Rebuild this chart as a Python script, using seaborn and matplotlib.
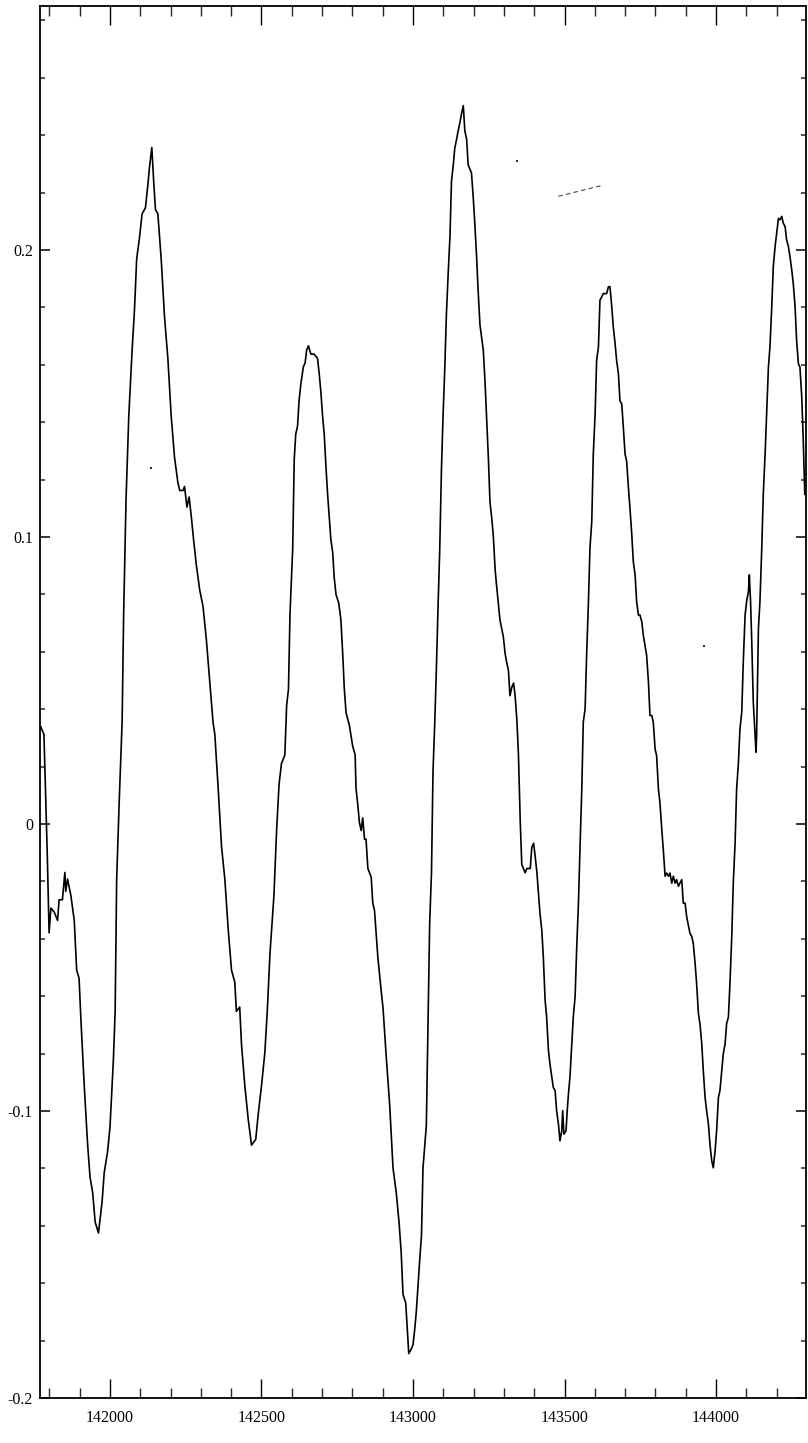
import matplotlib
matplotlib.use("Agg")
import matplotlib.pyplot as plt
import matplotlib.ticker as mticker
import seaborn as sns
import pandas as pd
import numpy as np

# ---- data ----
x_a = [141771, 141782, 141793, 141799, 141805, 141816, 141827, 141832, 141843, 141851,
       141854, 141860, 141871, 141882, 141890, 141898, 141904, 141915, 141926, 141934,
       141943, 141951, 141962, 141974, 141981, 141992, 142000, 142011, 142017, 142022,
       142031, 142040, 142045, 142053, 142062, 142073, 142081, 142088, 142097, 142106,
       142117, 142125, 142130, 142138, 142144, 142150, 142158, 142169, 142180, 142191,
       142202, 142213, 142224, 142230, 142241, 142246, 142254, 142261, 142268, 142276,
       142285, 142296, 142307, 142318, 142329, 142340, 142346, 142357, 142368, 142379,
       142390, 142401, 142412, 142417, 142428, 142434, 142445, 142456, 142467, 142481,
       142489, 142500, 142511, 142519, 142528, 142541, 142550, 142558, 142566, 142577,
       142583, 142589, 142594, 142603]
y_a = [0.034, 0.0312, -0.0106, -0.0379, -0.0293, -0.0307, -0.0336, -0.0264, -0.0264, -0.0169,
       -0.0235, -0.0192, -0.025, -0.0336, -0.0509, -0.0538, -0.0682, -0.0912, -0.1114, -0.1229,
       -0.1286, -0.1387, -0.1425, -0.1315, -0.1214, -0.1142, -0.1056, -0.0826, -0.0653, -0.0192,
       0.0096, 0.0355, 0.073, 0.1133, 0.1421, 0.1651, 0.1795, 0.1968, 0.204, 0.2126,
       0.2147, 0.2227, 0.2285, 0.2357, 0.2242, 0.2141, 0.2126, 0.1968, 0.1766, 0.1622,
       0.1421, 0.1277, 0.119, 0.1162, 0.1162, 0.1176, 0.1104, 0.1139, 0.1075, 0.0989,
       0.0902, 0.0816, 0.0758, 0.0643, 0.0499, 0.0355, 0.0312, 0.0125, -0.0077, -0.0192,
       -0.0365, -0.0509, -0.0552, -0.0653, -0.0638, -0.0768, -0.0912, -0.1027, -0.1119, -0.1099,
       -0.1013, -0.0912, -0.0797, -0.0653, -0.0451, -0.025, -0.0019, 0.0139, 0.0211, 0.024,
       0.0413, 0.047, 0.073, 0.096]

x_b = [142608, 142613, 142619, 142624, 142630, 142638, 142644, 142649, 142655, 142663,
       142674, 142685, 142691, 142696, 142702, 142707, 142713, 142718, 142724, 142729,
       142735, 142740, 142746, 142755, 142762, 142768, 142773, 142779, 142790, 142801,
       142809, 142812, 142818, 142823, 142829, 142834, 142840, 142845, 142851, 142862,
       142867, 142873, 142878, 142884, 142895, 142901, 142912, 142923, 142934, 142945,
       142954, 142961, 142967, 142976, 142981, 142986, 142994, 143000, 143006, 143011,
       143022, 143028, 143033, 143044, 143050, 143055, 143061, 143066, 143072, 143077,
       143083, 143088, 143094, 143099, 143105, 143110, 143116, 143122, 143127, 143133,
       143138, 143144, 143149, 143155, 143160, 143166, 143171, 143177, 143182, 143193,
       143199, 143204, 143210, 143215, 143221, 143232, 143238, 143243, 143249, 143254,
       143260, 143265, 143271, 143276, 143287, 143298, 143304, 143309, 143315, 143320,
       143326, 143332, 143337, 143343, 143348, 143354, 143359, 143370, 143376, 143387,
       143392, 143398, 143403, 143409]
y_b = [0.1269, 0.1358, 0.1387, 0.1475, 0.1534, 0.1592, 0.1607, 0.1651, 0.1666, 0.1637,
       0.1637, 0.1622, 0.1563, 0.1504, 0.1416, 0.1358, 0.124, 0.1152, 0.1064, 0.099,
       0.0946, 0.0858, 0.0799, 0.077, 0.0711, 0.0594, 0.0476, 0.0388, 0.0344, 0.0271,
       0.0241, 0.0124, 0.0065, 0.0006, -0.0023, 0.0021, -0.0053, -0.0053, -0.0155, -0.0185,
       -0.0273, -0.0302, -0.0376, -0.0464, -0.0582, -0.064, -0.0816, -0.0978, -0.1198, -0.1287,
       -0.1389, -0.1492, -0.1639, -0.1669, -0.1757, -0.1845, -0.183, -0.1815, -0.1757, -0.1698,
       -0.1521, -0.1433, -0.1198, -0.1051, -0.067, -0.0346, -0.017, 0.0182, 0.0359, 0.0535,
       0.077, 0.0946, 0.124, 0.1416, 0.1592, 0.1769, 0.1916, 0.2048, 0.2239, 0.2297,
       0.2356, 0.2386, 0.2415, 0.2445, 0.2474, 0.2503, 0.2415, 0.2386, 0.2297, 0.2268,
       0.218, 0.2092, 0.1974, 0.1857, 0.1739, 0.1651, 0.1534, 0.1416, 0.1269, 0.1122,
       0.1064, 0.1005, 0.0887, 0.0829, 0.0711, 0.0653, 0.0594, 0.0564, 0.0535, 0.0447,
       0.0476, 0.0491, 0.0447, 0.0359, 0.0241, 0.0006, -0.0141, -0.017, -0.0155, -0.0155,
       -0.0082, -0.0067, -0.0111, -0.017]

x_c = [143419, 143425, 143430, 143436, 143441, 143447, 143452, 143463, 143469, 143474,
       143480, 143485, 143491, 143494, 143498, 143505, 143509, 143513, 143518, 143524,
       143529, 143535, 143540, 143546, 143551, 143557, 143562, 143568, 143573, 143579,
       143584, 143590, 143595, 143601, 143606, 143612, 143617, 143623, 143628, 143639,
       143645, 143650, 143656, 143661, 143667, 143672, 143678, 143683, 143689, 143694,
       143700, 143705, 143711, 143716, 143722, 143727, 143733, 143738, 143744, 143749,
       143755, 143760, 143771, 143777, 143782, 143788, 143793, 143799, 143804, 143810,
       143815, 143821, 143826, 143832, 143837, 143843, 143848, 143854, 143859, 143865,
       143870, 143876, 143881, 143887, 143892, 143898, 143903, 143914, 143920, 143925,
       143931, 143936, 143942, 143947, 143953, 143958, 143964, 143969, 143975, 143980,
       143986, 143991, 143997, 144002, 144008, 144013, 144019, 144024, 144030, 144035,
       144041, 144046, 144052, 144057, 144063, 144068, 144074, 144079, 144085, 144090,
       144096, 144101, 144107, 144110, 144114, 144118, 144123, 144129, 144132, 144134,
       144137, 144140, 144145, 144151, 144156, 144162, 144167, 144173, 144178, 144184,
       144189, 144195, 144200, 144206, 144211, 144217, 144222, 144228, 144233, 144239,
       144244, 144250, 144255, 144261, 144266, 144272, 144277, 144283, 144288, 144293]
y_c = [-0.0311, -0.0369, -0.0462, -0.0614, -0.0672, -0.0789, -0.0836, -0.0918, -0.0929, -0.0999,
       -0.1046, -0.1104, -0.1069, -0.0999, -0.1081, -0.1069, -0.0999, -0.0941, -0.0882, -0.0766,
       -0.0672, -0.0602, -0.0439, -0.0276, -0.0089, 0.0121, 0.0355, 0.0401, 0.0588, 0.0775,
       0.0961, 0.1055, 0.1288, 0.1428, 0.1615, 0.1662, 0.1825, 0.1837, 0.1848, 0.1848,
       0.1872, 0.1872, 0.1802, 0.1732, 0.1673, 0.1615, 0.1568, 0.1475, 0.1463, 0.1381,
       0.1288, 0.1265, 0.1171, 0.1101, 0.1008, 0.0915, 0.0868, 0.0775, 0.0728, 0.0728,
       0.0705, 0.0658, 0.0588, 0.0495, 0.0378, 0.0378, 0.0355, 0.0261, 0.0238, 0.0121,
       0.0074, -0.0019, -0.0089, -0.0182, -0.0171, -0.0182, -0.0171, -0.0206, -0.0182, -0.0206,
       -0.0194, -0.0217, -0.0206, -0.0194, -0.0276, -0.0276, -0.0322, -0.0381, -0.0392, -0.0416,
       -0.0486, -0.0556, -0.0661, -0.0696, -0.0766, -0.0859, -0.0953, -0.0999, -0.1046, -0.1116,
       -0.1174, -0.1198, -0.1139, -0.1069, -0.0953, -0.0929, -0.0859, -0.0801, -0.0766, -0.0696,
       -0.0672, -0.0556, -0.0392, -0.0206, -0.0066, 0.0121, 0.0214, 0.0331, 0.039, 0.0565,
       0.0728, 0.0775, 0.081, 0.0868, 0.0775, 0.0635, 0.0425, 0.0308, 0.025, 0.0308,
       0.0495, 0.0681, 0.0775, 0.0961, 0.1148, 0.1288, 0.1428, 0.1592, 0.1662, 0.1802,
       0.1942, 0.2012, 0.2058, 0.211, 0.2105, 0.2117, 0.2093, 0.2082, 0.2035, 0.2012,
       0.1977, 0.193, 0.1883, 0.1802, 0.1685, 0.1603, 0.1592, 0.1487, 0.1335, 0.1148]

# stray marks visible in the reference scan
stray_seg_x = [143480, 143628]
stray_seg_y = [0.2187, 0.2226]
stray_dot_x = [142135, 143343, 143960]
stray_dot_y = [0.124, 0.231, 0.062]

x_ticks = [142000, 142500, 143000, 143500, 144000]
x_tick_labels = ["142000", "142500", "143000", "143500", "144000"]
y_ticks = [-0.2, -0.1, 0.0, 0.1, 0.2]
y_tick_labels = ["-0.2", "-0.1", "0", "0.1", "0.2"]

# ---- plotting ----
sns.set_theme(style="ticks")
plt.rcParams["font.family"] = ["Liberation Serif", "DejaVu Serif"]
plt.rcParams["axes.unicode_minus"] = False

df = pd.DataFrame({"x": x_a + x_b + x_c, "y": y_a + y_b + y_c})

W, H = 808, 1443
fig = plt.figure(figsize=(W / 100, H / 100), dpi=100)
ax = fig.add_axes([40 / W, (H - 1398) / H, 766 / W, 1392 / H])
ax.set_facecolor("white")
fig.patch.set_facecolor("white")

sns.lineplot(data=df, x="x", y="y", ax=ax, color="black", linewidth=1.2,
             sort=False, estimator=None)
sns.lineplot(x=stray_seg_x, y=stray_seg_y, ax=ax, color="#444444",
             linewidth=0.8, linestyle=(0, (4, 3)), estimator=None)
sns.scatterplot(x=stray_dot_x, y=stray_dot_y, ax=ax, color="#333333",
                s=2, marker="s", linewidth=0)

ax.set_xlim(141769, 144297)
ax.set_ylim(-0.2, 0.285)

ax.set_xticks(x_ticks)
ax.set_xticklabels(x_tick_labels)
ax.set_yticks(y_ticks)
ax.set_yticklabels(y_tick_labels)
ax.xaxis.set_minor_locator(mticker.MultipleLocator(100))
ax.yaxis.set_minor_locator(mticker.MultipleLocator(0.02))

ax.tick_params(axis="x", which="major", direction="in", length=14, width=1.0,
               top=True, bottom=True, pad=9, labelsize=11.5, colors="black")
ax.tick_params(axis="x", which="minor", direction="in", length=7.5, width=1.0,
               top=True, bottom=True)
ax.tick_params(axis="y", which="major", direction="in", length=7, width=1.1,
               left=True, right=True, pad=5, labelsize=11.5, colors="black")
ax.tick_params(axis="y", which="minor", direction="in", length=3.5, width=1.1,
               left=True, right=True)

for sp in ax.spines.values():
    sp.set_visible(True)
    sp.set_color("black")
    sp.set_linewidth(1.3)

ax.set_xlabel("")
ax.set_ylabel("")
ax.grid(False)

fig.savefig("out.png", dpi=100, facecolor="white")
